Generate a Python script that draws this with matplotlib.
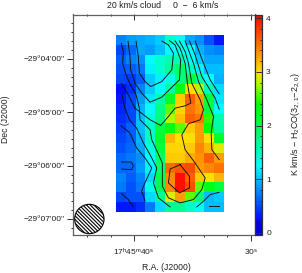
import numpy as np
import matplotlib
matplotlib.use("Agg")
import matplotlib.pyplot as plt
from matplotlib.colors import LinearSegmentedColormap, Normalize
from matplotlib.patches import Ellipse

plt.rcParams['font.family'] = ['Liberation Sans', 'DejaVu Sans']
plt.rcParams['mathtext.fontset'] = 'custom'
plt.rcParams['mathtext.rm'] = 'Liberation Sans'
plt.rcParams['mathtext.default'] = 'regular'
plt.rcParams['hatch.linewidth'] = 0.8

# integrated intensity map, K km/s (rows north to south, columns east to west)
intensity = [
    [.75, .85, .90, .95, 1.05, 1.45, 1.3, .90, .80, .55, .30],
    [.50, .65, .90, .85, 1.00, 1.25, 1.35, 1.25, .95, .80, .75],
    [.60, .75, .80, 1.25, 1.45, 1.55, 1.55, 1.30, 1.05, .90, .90],
    [.55, .60, .70, 1.20, 1.45, 1.65, 1.90, 1.50, 1.20, 1.00, 1.00],
    [.50, .45, .60, 1.05, 1.20, 1.35, 1.80, 2.10, 1.60, 1.25, .95],
    [.25, .40, .75, 1.05, 1.30, 1.60, 2.30, 3.00, 2.80, 1.55, 1.10],
    [.30, .50, .85, 1.15, 1.60, 2.20, 3.10, 3.60, 3.30, 2.10, 1.15],
    [.35, .50, .95, 1.25, 1.75, 2.60, 3.05, 3.50, 3.35, 2.10, 1.25],
    [.40, .50, 1.00, 1.40, 1.80, 2.80, 3.15, 3.60, 3.50, 2.50, 1.60],
    [.45, .60, 1.00, 1.50, 2.10, 2.30, 2.60, 3.10, 3.30, 2.40, 1.65],
    [.50, .60, .95, 1.50, 2.20, 3.20, 3.00, 3.00, 3.30, 3.00, 2.20],
    [.55, .65, .90, 1.40, 2.10, 3.05, 3.05, 3.10, 3.40, 3.20, 2.90],
    [.65, .70, .80, 1.25, 1.90, 3.10, 3.10, 3.25, 3.35, 3.60, 3.30],
    [.65, .65, .85, 1.20, 1.90, 3.55, 3.65, 3.70, 3.30, 3.40, 3.50],
    [.75, .60, .75, 1.10, 2.00, 3.40, 4.00, 3.60, 3.10, 3.00, 3.20],
    [.70, .55, .70, 1.35, 2.00, 3.40, 4.00, 3.70, 2.60, 2.30, 2.10],
    [.50, .55, .55, 1.10, 1.70, 2.90, 3.30, 2.60, 1.80, 1.00, 1.05],
    [.30, .30, .40, .70, 1.10, 1.70, 1.70, 1.50, 1.30, 1.00, 1.00],
]

# contour paths, as (column, row) in map-cell units
contour_paths = [
    [(2.01,.54),(2.24,2.11),(2.35,3.81),(2.93,4.66),(3.50,5.17),(4.63,4.66),(5.65,3.47),(5.82,1.77),(5.31,.92),(4.63,.51)],
    [(1.19,.54),(1.39,2.11),(1.46,3.47),(1.90,4.83),(2.59,5.85),(3.44,6.77),(4.63,6.26),(6.43,4.49),(6.56,2.45),(5.99,.92),(5.41,.48)],
    [(.51,4.83),(1.22,6.02),(1.90,7.38),(3.44,8.57),(4.52,9.15),(5.31,8.23),(5.99,7.38),(7.01,7.14),(7.59,6.87),(7.24,4.83),(7.01,2.79),(6.50,1.26),(5.99,.51)],
    [(.51,.75),(.71,1.60),(.65,2.79),(.99,3.98),(1.46,5.0),(2.01,6.02),(2.35,7.38),(2.41,8.57),(3.44,9.59),(3.61,10.61),(4.69,12.99),(4.69,15.37),(5.31,16.56),(6.50,17.07),(7.86,16.73),(8.71,15.71),(9.05,14.52),(8.03,12.99),(7.01,11.63),(6.67,10.10),(7.35,8.98),(8.54,8.57),(8.88,7.55),(8.54,6.53),(7.69,4.83),(7.35,2.79),(7.01,1.60),(6.43,.51)],
    [(7.01,.51),(7.86,2.79),(8.37,4.66),(9.22,6.53),(9.90,8.23),(9.66,9.93),(9.73,11.63),(10.48,12.65)],
    [(7.45,.51),(8.03,1.94),(8.71,4.15),(10.07,6.36),(10.48,7.48)],
    [(8.03,.51),(8.88,2.79),(9.56,4.49),(10.48,5.92)],
    [(.58,6.02),(.88,7.38),(1.33,8.57),(2.07,9.42),(2.76,10.95),(3.44,12.14),(4.12,13.50),(3.78,15.03),(4.29,16.56),(5.48,17.48)],
    [(.48,9.18),(1.39,9.93),(2.07,11.46),(2.93,12.48),(3.61,13.50),(2.76,15.37),(2.59,15.88),(2.93,16.90)],
    [(.54,12.89),(1.56,12.89),(1.73,13.33),(1.56,13.67),(.54,13.61)],
    [(.54,16.12),(1.22,16.73),(1.73,17.48)],
    [(6.50,13.16),(5.48,13.61),(5.31,15.03),(6.43,16.05),(7.45,15.54),(7.45,14.35),(6.50,13.16)],
    [(8.20,17.48),(8.88,16.90),(9.56,16.22),(10.48,15.99)],
    [(9.46,17.35),(10.48,17.35)],
]

title_left = "20 km/s cloud"
title_right = "0  \u2212  6 km/s"
ra_major = [40, 30]
ra_minor = [44, 42, 38, 36, 34, 32]
ra_labels = [r"17$^{h}$45$^{m}$40$^{s}$", r"30$^{s}$"]
dec_major = [0, -60, -120, -180]
dec_labels = ["\u221229\u00b004'00''", "\u221229\u00b005'00''", "\u221229\u00b006'00''", "\u221229\u00b007'00''"]
cbar_ticks = [0, 1, 2, 3, 4]

# map geometry: 11 arcsec cells
RA0, DRA = 41.517, 0.8416     # RA seconds at left edge, seconds per column
DEC0, DDEC = 25.9, 11.0       # Dec offset at top edge, arcsec per row

W, H = 302, 273
fig = plt.figure(figsize=(W/100, H/100), dpi=100)
ax = fig.add_axes([73/W, (H-235)/H, (254.5-73)/W, 220.5/H])
cax = fig.add_axes([254.5/W, (H-235)/H, 7.5/W, 220.5/H])

vmin, vmax = -0.04, 4.07
stops = [(0.0, '#0000d0'), (0.2, '#0000ff'), (0.5, '#0048ff'), (0.8, '#0090ff'), (1.0, '#00c0ff'),
         (1.25, '#00ffff'), (1.7, '#00ff90'), (2.4, '#00ff00'), (2.75, '#a0ff00'), (3.0, '#ffe000'),
         (3.3, '#ffa000'), (3.6, '#ff6000'), (4.07, '#ff0000')]
pos = [(v - vmin)/(vmax - vmin) for v, _ in stops]
cmap = LinearSegmentedColormap.from_list('jetlike', [(0.0, '#0000d0')] + list(zip(pos, [c for _, c in stops])))
norm = Normalize(vmin, vmax)

Z = np.array(intensity)
nrow, ncol = Z.shape
im = ax.imshow(Z, cmap=cmap, norm=norm, interpolation='nearest', aspect='auto',
               extent=[RA0, RA0 - ncol*DRA, DEC0 - nrow*DDEC, DEC0], zorder=1)

for path in contour_paths:
    p = np.array(path)
    ax.plot(RA0 - p[:, 0]*DRA, DEC0 - p[:, 1]*DDEC, color='#101010', lw=0.65, zorder=3)

ax.add_patch(Ellipse((43.83, -180), 2.52, 33, facecolor='white', edgecolor='black',
                     hatch='\\'*9, lw=0.8, zorder=2))

ax.set_xlim(45.23, 29.67)
ax.set_ylim(-198, 50.06)

ax.set_xticks(ra_major, ra_labels)
ax.set_xticks(ra_minor, minor=True)
ax.set_yticks(dec_major, dec_labels)
ax.set_yticks([v for v in range(40, -200, -10) if v % 60 != 0], minor=True)
frame = '#606060'
for s in ax.spines.values():
    s.set_color(frame)
    s.set_linewidth(0.9)
ax.tick_params(axis='both', which='major', labelsize=6.0, length=4, width=0.7, color='#303030', pad=2, labelcolor='#202020')
ax.tick_params(axis='x', which='major', pad=4.5)
ax.tick_params(axis='both', which='minor', length=1.5, width=0.7, color='#303030')
ax.tick_params(axis='x', top=False)
secx = ax.secondary_xaxis('top')
secx.set_xticks(ra_major, ['', ''])
secx.set_xticks(ra_minor, minor=True)
secx.tick_params(axis='x', which='major', direction='in', length=4, width=0.7, color='#303030')
secx.tick_params(axis='x', which='minor', direction='in', length=1.5, width=0.7, color='#303030')
secx.spines['top'].set_visible(False)

cb = fig.colorbar(im, cax=cax, ticks=cbar_ticks)
cb.ax.yaxis.set_ticks(np.arange(0, 4.01, 0.2), minor=True)
cb.outline.set_edgecolor('#303030')
cb.outline.set_linewidth(0.9)
cb.ax.tick_params(which='major', direction='in', length=4, width=0.7, color='#303030', labelsize=6.0, pad=3, labelcolor='#202020')
cb.ax.tick_params(which='minor', direction='in', length=1.5, width=0.7, color='#303030')

fig.text(107/W, 1-5/H, title_left, fontsize=6.3, ha='left', va='center', color='#202020')
fig.text(173/W, 1-5/H, title_right, fontsize=6.3, ha='left', va='center', color='#202020')
fig.text(166/W, 1-268/H, "R.A. (J2000)", fontsize=6.2, ha='center', va='center', color='#202020')
fig.text(6/W, 1-119/H, "Dec (J2000)", fontsize=6.2, ha='center', va='center', rotation=90, color='#202020')
fig.text(296/W, 1-124/H, r"K km/s $-$ H$_{2}$CO(3$_{2,1}$$-$2$_{2,0}$)", fontsize=6.4, ha='center', va='center',
         rotation=90, color='#202020')

fig.savefig('out.png', dpi=100, facecolor='white')
